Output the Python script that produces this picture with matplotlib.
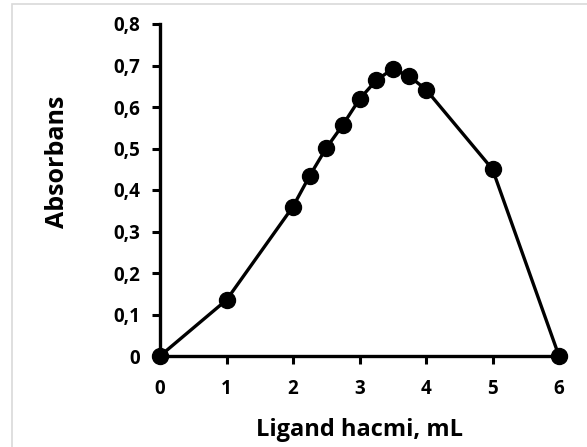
import matplotlib.pyplot as plt
from matplotlib.patches import Rectangle

ligand_ml = [0, 1, 2, 2.25, 2.5, 2.75, 3, 3.25, 3.5, 3.75, 4, 5, 6]
absorbans = [0, 0.135, 0.36, 0.434, 0.501, 0.557, 0.619, 0.664, 0.692, 0.674, 0.642, 0.45, 0]
x_ticks = [0, 1, 2, 3, 4, 5, 6]
y_ticks = [0, 0.1, 0.2, 0.3, 0.4, 0.5, 0.6, 0.7, 0.8]
y_labels = ['0', '0,1', '0,2', '0,3', '0,4', '0,5', '0,6', '0,7', '0,8']

plt.rcParams['font.family'] = ['Open Sans', 'DejaVu Sans']
plt.rcParams['font.weight'] = 'bold'

W, H = 587, 447
fig = plt.figure(figsize=(W / 100, H / 100), dpi=100)
# light gray chart frame (only left/top edges visible)
fig.patches.append(Rectangle((12 / W, -0.1), 1.2, 1 - 4 / H + 0.1, transform=fig.transFigure,
                             facecolor='none', edgecolor='#d9d9d9', lw=1.2, zorder=-1))

ax = fig.add_axes([160 / W, 1 - 356 / H, (559 - 160) / W, (356 - 24) / H])
ax.set_facecolor('none')
ax.plot(ligand_ml, absorbans, color='black', lw=2.4, marker='o', ms=11.5,
        clip_on=False, zorder=3)
ax.set_xlim(0, 6)
ax.set_ylim(0, 0.8)
ax.set_xticks(x_ticks)
ax.set_xticklabels([str(v) for v in x_ticks])
ax.set_yticks(y_ticks)
ax.set_yticklabels(y_labels)
for s in ['top', 'right']:
    ax.spines[s].set_visible(False)
for s in ['left', 'bottom']:
    ax.spines[s].set_linewidth(2.4)
ax.tick_params(axis='both', length=5.5, width=2.2, labelsize=13.5)
ax.tick_params(axis='x', pad=11)
ax.tick_params(axis='y', pad=9)
ax.set_xlabel('Ligand hacmi, mL', fontsize=17, fontweight='bold')
ax.set_ylabel('Absorbans', fontsize=18, fontweight='bold')
ax.xaxis.set_label_coords(0.5, -0.188)
ax.yaxis.set_label_coords(-0.225, 0.584)

fig.savefig('out.png', dpi=100)
